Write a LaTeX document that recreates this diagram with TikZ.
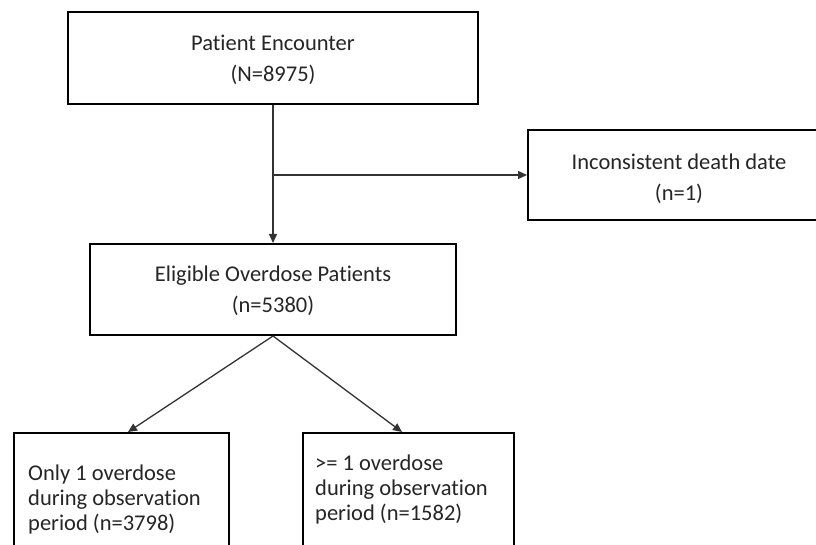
\documentclass[tikz,border=0pt]{standalone}
\usepackage{fontspec}
\setmainfont[Ligatures=NoCommon]{Carlito}
\usetikzlibrary{arrows.meta}
\begin{document}
\begin{tikzpicture}[x=1pt,y=-1pt,
  box/.style={draw=black,line width=2pt,fill=white,inner sep=0pt},
  conn/.style={draw=black!80,line width=1.3pt,-{Triangle[length=9pt,width=8pt]}},
  ctext/.style={align=center,font=\fontsize{22.5}{31}\selectfont,text=black!85},
  ltext/.style={align=left,font=\fontsize{22.5}{25}\selectfont,text=black!85,anchor=north west,inner sep=0pt}]
\useasboundingbox (0,0) rectangle (816,545);
\clip (0,0) rectangle (816,545);
\fill[white] (0,0) rectangle (816,545);
\node[box,minimum width=410pt,minimum height=92pt] (enc) at (273,58) {};
\node[ctext] at (273,60) {Patient Encounter\\(N=8975)};
\node[box,minimum width=302pt,minimum height=90pt] (incon) at (679,175) {};
\node[ctext] at (679,179) {Inconsistent death date\\(n=1)};
\node[box,minimum width=366pt,minimum height=91pt] (elig) at (273,289.5) {};
\node[ctext] at (273,291) {Eligible Overdose Patients\\(n=5380)};
\node[box,minimum width=215pt,minimum height=140pt,anchor=north west] (one) at (13,432) {};
\node[ltext] at (28,465) {Only 1 overdose\\during observation\\period (n=3798)};
\node[box,minimum width=211pt,minimum height=140pt,anchor=north west] (more) at (302,432) {};
\node[ltext] at (315,455) {>= 1 overdose\\during observation\\period (n=1582)};
\coordinate (j) at (273,175);
\coordinate (onetop) at (128,432);
\coordinate (moretop) at (402,432);
\draw[conn] (enc.south) -- (elig.north);
\draw[conn] (j) -- (incon.west);
\draw[conn] (elig.south) -- (onetop);
\draw[conn] (elig.south) -- (moretop);
\end{tikzpicture}
\end{document}
